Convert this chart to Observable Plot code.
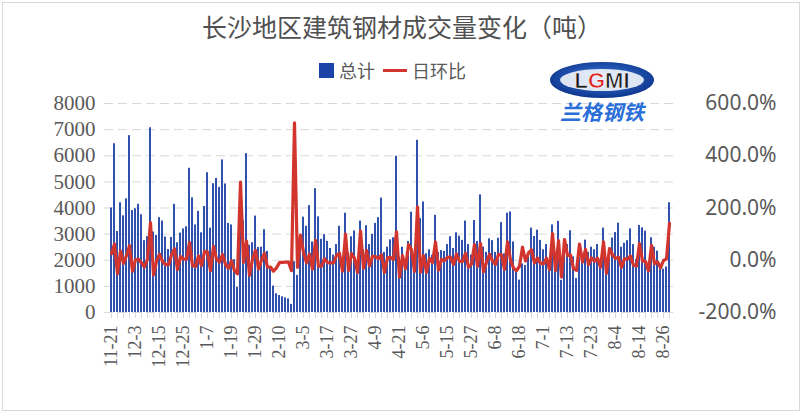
<!DOCTYPE html>
<html><head><meta charset="utf-8">
<script src="https://cdn.jsdelivr.net/npm/d3@7"></script>
<script src="https://cdn.jsdelivr.net/npm/@observablehq/plot@0.6"></script>
<style>
html,body{margin:0;padding:0;background:#fff;}
#wrap{position:relative;width:804px;height:414px;overflow:hidden;font-family:"Noto Sans CJK SC","Noto Sans",sans-serif;}
#frame{position:absolute;left:2px;top:2px;width:798px;height:409px;border:1px solid #d9d9d9;box-sizing:border-box;}
#title{position:absolute;left:0;width:804px;top:12px;text-align:center;font-size:25px;line-height:29px;color:#505050;}
#legend{position:absolute;top:59px;left:319px;display:flex;align-items:center;font-size:18px;line-height:22px;color:#595959;}
#chart{position:absolute;left:0;top:0;}
#logo{position:absolute;left:545px;top:58px;}
</style></head>
<body>
<div id="wrap">
  <div id="frame"></div>
  <div id="chart"></div>
  <div id="title">长沙地区建筑钢材成交量变化（吨）</div>
  <div id="legend">
    <span style="display:inline-block;width:15px;height:15px;background:#1c44a8;margin-right:5px"></span><span>总计</span>
    <span style="display:inline-block;width:24px;height:3px;background:#d2352e;margin:0 5px 0 8px"></span><span>日环比</span>
  </div>
  <svg id="logo" width="115" height="72" viewBox="0 0 115 72">
    <defs>
      <radialGradient id="lg" cx="50%" cy="45%" r="60%">
        <stop offset="0%" stop-color="#3d7fe0"/>
        <stop offset="100%" stop-color="#0a2f86"/>
      </radialGradient>
    </defs>
    <ellipse cx="57" cy="22" rx="52" ry="18" fill="url(#lg)"/>
    <ellipse cx="57" cy="22" rx="42" ry="11" fill="#ffffff" opacity="0.85"/>
    <text x="57" y="30" text-anchor="middle" font-family="Liberation Sans" font-weight="bold" font-size="22" fill="#1a1a1a" stroke="#ffffff" stroke-width="0.6">L<tspan fill="#d8241f">G</tspan>MI</text>
    <text x="57" y="62" text-anchor="middle" font-family="Noto Sans CJK SC" font-weight="bold" font-size="21" font-style="italic" fill="#2a6ed8">兰格钢铁</text>
  </svg>
</div>
<script>
const totals = [
  4000, 6460, 3100, 4200, 3700, 4350, 6770, 3900, 3970, 4140,
  3740, 2750, 2900, 7070, 3080, 2950, 3630, 3500, 2890, 2410,
  2870, 4140, 2670, 3040, 3200, 3280, 5520, 4390, 3350, 3870,
  3050, 4060, 5350, 3230, 4930, 5130, 4790, 5840, 4920, 3410,
  3350, 2020, 960, 3830, 3520, 6080, 2570, 2670, 3690, 2490,
  2500, 3170, 2340, 1740, 1010, 715, 650, 600, 560, 520,
  310, 1940, 1420, 2780, 3650, 3300, 4090, 2700, 4740, 3660,
  2800, 2980, 2720, 2450, 2200, 2600, 3300, 1900, 3800, 2300,
  2900, 3120, 1650, 3500, 2400, 3320, 2600, 2990, 3410, 3630,
  4380, 2300, 2500, 2780, 2860, 5980, 2120, 2500, 1700, 2720,
  3840, 2170, 6590, 3590, 4230, 2250, 2400, 2190, 3720, 2300,
  2370, 2340, 2600, 2900, 2450, 3050, 2920, 2760, 3500, 2600,
  2200, 3520, 2720, 4500, 2500, 2300, 2820, 2750, 2300, 2840,
  3440, 2240, 3800, 3850, 2700, 1610, 1240, 1860, 1800, 2300,
  3230, 2910, 3150, 2760, 2400, 2600, 1660, 3350, 2000, 3490,
  1230, 2200, 2600, 3130, 2130, 1300, 2100, 1950, 2770, 2300,
  2500, 2400, 2600, 1900, 3230, 1620, 2350, 2850, 3060, 3420,
  2500, 2650, 2750, 3200, 2600, 2030, 3330, 3240, 3110, 1820,
  2860, 2500, 2350, 1670, 1660, 1740, 4200
];
// day-over-day change, percent
const dayRatio = [
  25, 62, -52, 35, -12, 18, 56, -42, 2, 4,
  -10, -26, 5, 144, -56, -4, 23, -4, -17, -17,
  19, 44, -36, 14, 5, 3, 68, -20, -24, 16,
  -21, 33, 32, -40, 53, 4, -7, 22, -16, -31,
  -2, -40, -52, 299, -8, 73, -58, 4, 38, -33,
  0, 27, -26, -26, -42, -29, -9, -8, -7, -7,
  -40, 526, -27, 96, 31, -10, 24, -34, 76, -23,
  -23, 6, -9, -10, -10, 18, 27, -42, 100, -39,
  26, 8, -47, 112, -31, 38, -22, 15, 14, 6,
  21, -47, 9, 11, 3, 109, -65, 18, -32, 60,
  41, -43, 204, -46, 18, -47, 7, -9, 70, -38,
  3, -1, 11, 12, -16, 24, -4, -5, 27, -26,
  -15, 60, -23, 65, -44, -8, 23, -2, -16, 23,
  21, -35, 70, 1, -30, -40, -23, 50, -3, 28,
  40, -10, 8, -12, -13, 8, -36, 102, -40, 75,
  -65, 79, 18, 20, -32, -39, 62, -7, 42, -17,
  9, -4, 8, -27, 70, -50, 45, 21, 7, 12,
  -27, 6, 4, 16, -19, -22, 64, -3, -4, -41,
  57, -13, -6, -29, -1, 5, 141
];
const tickLabels = ["11-21","12-3","12-15","12-25","1-7","1-19","1-29","2-10","3-5","3-17","3-27","4-9",
  "4-21","5-6","5-15","5-27","6-8","6-18","7-1","7-13","7-23","8-4","8-14","8-26"];
const labelStep = 8;
const leftTicks = [0,1000,2000,3000,4000,5000,6000,7000,8000];
const rightTicks = [-200,0,200,400,600];

// right axis (percent) is mapped onto the left scale: -200% -> 0, 600% -> 8000
const pctToLeft = p => (p + 200) * 10;
const rows = totals.map((v, i) => ({i, total: v, ratio: dayRatio[i]}));
const idx = rows.map(d => d.i);
const tickIdx = tickLabels.map((_, j) => j * labelStep);
const minorIdx = idx.filter(i => i % 2 === 0);

const chart = Plot.plot({
  width: 804, height: 414,
  marginTop: 103, marginBottom: 102, marginLeft: 104, marginRight: 128,
  style: {background: "transparent", overflow: "visible"},
  x: {type: "band", domain: idx, padding: 0.5, axis: null},
  y: {domain: [0, 8000], axis: null},
  marks: [
    Plot.gridY({ticks: leftTicks, stroke: "#d9d9d9", strokeOpacity: 1, strokeDasharray: "9,5", strokeWidth: 1}),
    Plot.barY(rows, {x: "i", y: "total", fill: "#2f50ad"}),
    Plot.lineY(rows, {x: "i", y: d => pctToLeft(d.ratio), stroke: "#d2352e", strokeWidth: 3.2, strokeLinejoin: "round"}),
    Plot.axisY({ticks: leftTicks, anchor: "left", tickSize: 0, tickPadding: 9, tickFormat: d => String(d), fontSize: 21, fontFamily: "Liberation Serif", fill: "#595959", label: null}),
    Plot.axisY({ticks: rightTicks.map(pctToLeft), anchor: "right", tickSize: 0, tickPadding: 100, textAnchor: "end",
      tickFormat: v => (v / 10 - 200).toFixed(1) + "%", fontSize: 21, fontFamily: "Noto Sans", fill: "#595959", label: null}),
    Plot.axisX({ticks: tickIdx, anchor: "bottom", tickSize: 0, tickPadding: 13, tickRotate: -90,
      tickFormat: i => tickLabels[i / labelStep], fontSize: 18, fontFamily: "Liberation Serif", fill: "#595959", label: null}),
    Plot.axisX({ticks: minorIdx, anchor: "bottom", tickSize: 6, tickFormat: () => "", stroke: "#d9d9d9", label: null})
  ]
});
document.getElementById("chart").appendChild(chart);
</script>
</body></html>
